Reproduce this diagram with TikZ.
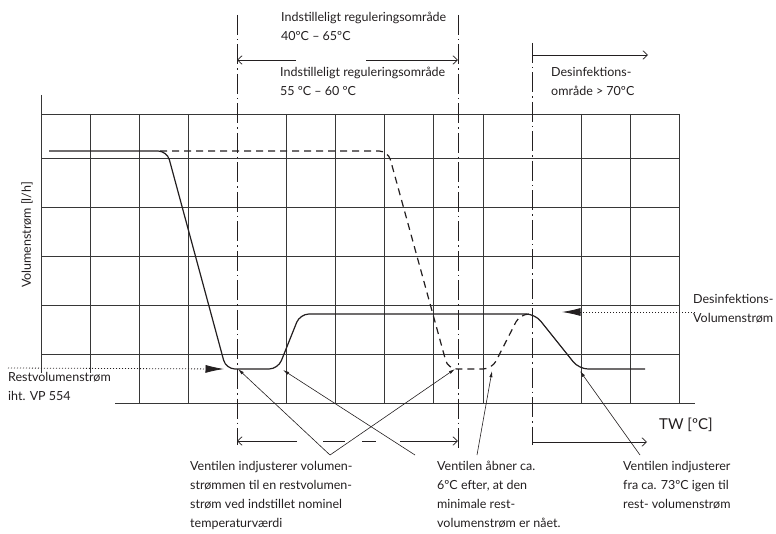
\documentclass[tikz,border=0pt]{standalone}
\usepackage{fontspec}
\setmainfont{Lato}
\usepackage{tikz}
\usetikzlibrary{arrows.meta, positioning, calc}
\definecolor{ink}{RGB}{35, 31, 32}
\definecolor{gridgray}{RGB}{55, 55, 55}
\tikzset{
  font=\fontsize{12.5}{19}\selectfont,
  gridline/.style={draw=gridgray, line width=0.8pt},
  limitline/.style={
    draw=ink, line width=0.9pt,
    dash pattern=on 20pt off 4pt on 1.5pt off 4pt
  },
  curveline/.style={draw=ink, line width=1.2pt, rounded corners=9pt},
  dashcurve/.style={curveline, dash pattern=on 7pt off 5pt},
  dimline/.style={draw=ink, line width=0.7pt},
  dimarrow/.style={dimline, -{Straight Barb[length=1.6mm, width=3mm]}},
  leaderline/.style={draw=ink, line width=0.6pt, -{Latex[length=2.2mm, width=1.1mm]}},
  markerline/.style={
    draw=ink, line width=0.8pt, dash pattern=on 1pt off 2pt,
    -{Latex[length=6.5mm, width=2.8mm]}
  },
  labeltext/.style={anchor=north west, align=left, inner sep=0pt, text=ink}
}

\begin{document}
\begin{tikzpicture}[x=1pt, y=-1pt]
  \useasboundingbox (0,0) rectangle (776,534);

  % grid
  \foreach \gy in {114,158,207,256,305,354}
    \draw[gridline] (41,\gy) -- (679,\gy);
  \draw[gridline] (115,403) -- (695,403);
  \draw[gridline] (41,95) -- (41,373);
  \draw[gridline] (90,114) -- (90,373);
  \foreach \gx in {139,188,286,335,384,433,483,581,630,679}
    \draw[gridline] (\gx,114) -- (\gx,403);

  % limit lines
  \coordinate (lo top) at (237,15);
  \coordinate (lo bot) at (237,445);
  \coordinate (hi top) at (458,15);
  \coordinate (hi bot) at (458,448);
  \coordinate (dis top) at (532,43);
  \coordinate (dis bot) at (532,445);
  \draw[limitline] (lo top) -- (lo bot);
  \draw[limitline] (hi top) -- (hi bot);
  \draw[limitline] (dis top) -- (dis bot);

  % range arrows
  \draw[dimarrow] (296,60) -- (lo top |- 0,60);
  \draw[dimarrow] (366,60) -- (hi top |- 0,60);
  \draw[dimarrow] (dis top |- 0,55) -- (648,55);
  \draw[dimarrow] (297,441) -- (lo bot |- 0,441);
  \draw[dimline] (323,441) -- (345,441);
  \draw[dimline] (362,441) -- (376,441);
  \draw[dimarrow] (400,441) -- (hi bot |- 0,441);
  \draw[dimarrow] (dis bot |- 0,442) -- (647,442);

  % curves
  \coordinate (solid low) at (238,369);
  \coordinate (solid rise) at (283,370);
  \coordinate (dash low) at (455,369);
  \coordinate (dash rise) at (492,371);
  \coordinate (solid end) at (580,371);
  \draw[curveline] (49,151) -- (167,151) -- (226,369) -- (278,369)
    -- (300,314) -- (535,314) -- (579,369) -- (645,369);
  \draw[dashcurve] (160,151) -- (388,151) -- (448,369) -- (492,369)
    -- (520,314) -- (532,314);

  % labels
  \node[labeltext] (range wide) at (281,12)
    {Indstilleligt reguleringsområde\\40ºC – 65ºC};
  \node[labeltext] (range set) at (280,67)
    {Indstilleligt reguleringsområde\\55 ºC – 60 ºC};
  \node[labeltext] (dis range) at (551,67)
    {Desinfektions-\\område > 70ºC};
  \node[text=ink, rotate=90] (yaxis) at (27,235) {Volumenstrøm [l/h]};
  \node[labeltext] (rest lbl) at (8,372)
    {Restvolumenstrøm\\iht. VP 554};
  \node[labeltext] (dis lbl) at (693,294)
    {Desinfektions-\\Volumenstrøm};
  \node[anchor=west, inner sep=0pt, text=ink, font=\fontsize{15}{17}\selectfont]
    (tw) at (659,425) {TW [ºC]};

  % level markers
  \coordinate (rest start) at (8,368);
  \coordinate (rest tip) at (224,369);
  \coordinate (dis start) at (695,312);
  \coordinate (dis tip) at (562,312);
  \draw[markerline] (rest start) -- (rest tip);
  \draw[markerline] (dis start) -- (dis tip);

  % notes
  \node[labeltext] (note adjust) at (190,461)
    {Ventilen indjusterer volumen-\\strømmen til en restvolumen-\\strøm ved indstillet nominel\\temperaturværdi};
  \node[labeltext] (note open) at (437,461)
    {Ventilen åbner ca.\\6ºC efter, at den\\minimale rest-\\volumenstrøm er nået.};
  \node[labeltext] (note back) at (623,461)
    {Ventilen indjusterer\\fra ca. 73ºC igen til\\rest- volumenstrøm};

  \coordinate (adjust tip) at (330,455);
  \coordinate (open tip a) at (415,455);
  \coordinate (open tip b) at (477,455);
  \coordinate (back tip) at (640,455);
  \draw[leaderline] (adjust tip) -- (solid low);
  \draw[leaderline] (adjust tip) -- (dash low);
  \draw[leaderline] (open tip a) -- (solid rise);
  \draw[leaderline] (open tip b) -- (dash rise);
  \draw[leaderline] (back tip) -- (solid end);
\end{tikzpicture}
\end{document}
